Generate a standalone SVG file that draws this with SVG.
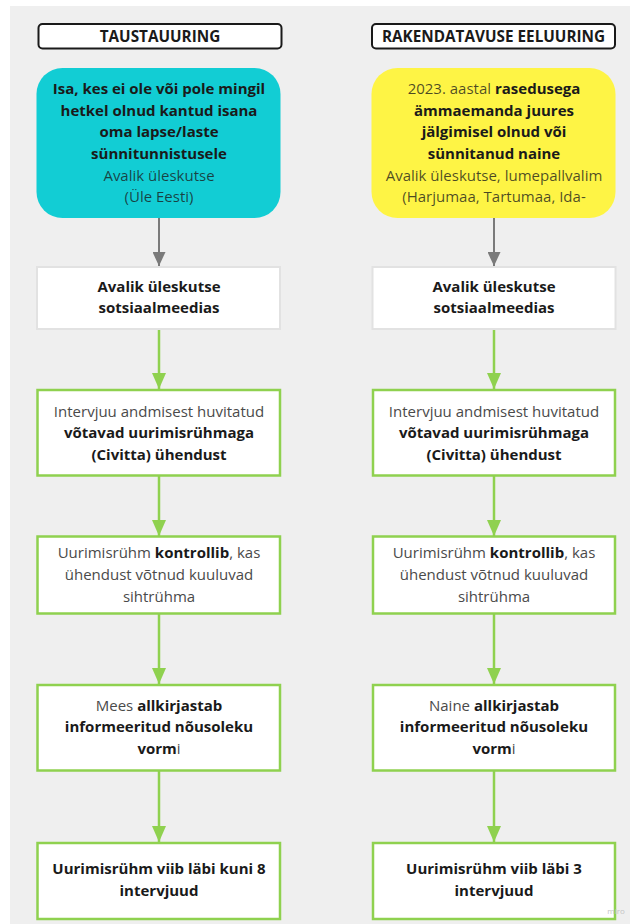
<svg xmlns="http://www.w3.org/2000/svg" width="630" height="924" viewBox="0 0 630 924">
<defs>
<style>
text{font-family:"Open Sans","Noto Sans","Liberation Sans",sans-serif;font-size:15px;text-anchor:middle;fill:#1a1a1a}
.b{font-weight:700}
.h{font-size:15.3px}
.r{font-weight:400;fill:#4a4a4a}
.rc{font-weight:400;fill:#1a1a1a;fill-opacity:0.78}
.hdr{fill:#ffffff;stroke:#1a1a1a;stroke-width:2}
.box{fill:#ffffff;stroke:#8fd14f;stroke-width:2.5}
.box0{fill:#ffffff;stroke:#e2e2e2;stroke-width:2}
.g{stroke:#8fd14f;stroke-width:2.5;fill:none}
.k{stroke:#7a7a7a;stroke-width:2;fill:none}
</style>
<marker id="ag" viewBox="0 0 16 14" refX="16" refY="7" markerWidth="16" markerHeight="14" markerUnits="userSpaceOnUse" orient="auto">
<path d="M0,0 L16,7 L0,14 Z" fill="#8fd14f"/>
</marker>
<marker id="ak" viewBox="0 0 14 13" refX="14" refY="6.5" markerWidth="14" markerHeight="13" markerUnits="userSpaceOnUse" orient="auto">
<path d="M0,0 L14,6.5 L0,13 Z" fill="#7a7a7a"/>
</marker>
</defs>
<rect x="0" y="0" width="630" height="924" fill="#ffffff"/>
<rect x="10" y="6" width="620" height="918" fill="#efefef"/>

<g id="connectors">
<line class="k" x1="159" y1="218" x2="159" y2="266" marker-end="url(#ak)"/>
<line class="g" x1="159" y1="329" x2="159" y2="389" marker-end="url(#ag)"/>
<line class="g" x1="159" y1="476" x2="159" y2="536" marker-end="url(#ag)"/>
<line class="g" x1="159" y1="614" x2="159" y2="684" marker-end="url(#ag)"/>
<line class="g" x1="159" y1="771" x2="159" y2="842" marker-end="url(#ag)"/>
<line class="k" x1="494" y1="218" x2="494" y2="266" marker-end="url(#ak)"/>
<line class="g" x1="494" y1="329" x2="494" y2="389" marker-end="url(#ag)"/>
<line class="g" x1="494" y1="476" x2="494" y2="536" marker-end="url(#ag)"/>
<line class="g" x1="494" y1="614" x2="494" y2="684" marker-end="url(#ag)"/>
<line class="g" x1="494" y1="771" x2="494" y2="842" marker-end="url(#ag)"/>
</g>

<g id="hdr-left">
<rect class="hdr" x="38.5" y="24" width="243" height="24.5" rx="4"/>
<text class="b h" x="160" y="41.5">TAUSTAUURING</text>
</g>
<g id="hdr-right">
<rect class="hdr" x="372" y="24" width="243" height="24.5" rx="4"/>
<text class="b h" x="493.5" y="41.5">RAKENDATAVUSE EELUURING</text>
</g>

<g id="left-1">
<rect x="36.5" y="68" width="244" height="150" rx="26" fill="#12cdd4"/>
<text class="b" x="159" y="94">Isa, kes ei ole või pole mingil</text>
<text class="b" x="159" y="115.7">hetkel olnud kantud isana</text>
<text class="b" x="159" y="137.4">oma lapse/laste</text>
<text class="b" x="159" y="159">sünnitunnistusele</text>
<text class="rc" x="159" y="180.6">Avalik üleskutse</text>
<text class="rc" x="159" y="202.2">(Üle Eesti)</text>
</g>
<g id="right-1">
<rect x="371.5" y="68" width="244" height="150" rx="26" fill="#fef445"/>
<text x="494" y="94"><tspan class="rc">2023. aastal </tspan><tspan class="b">rasedusega</tspan></text>
<text class="b" x="494" y="115.7">ämmaemanda juures</text>
<text class="b" x="494" y="137.4">jälgimisel olnud või</text>
<text class="b" x="494" y="159">sünnitanud naine</text>
<text class="rc" x="494" y="180.6">Avalik üleskutse, lumepallvalim</text>
<text class="rc" x="494" y="202.2">(Harjumaa, Tartumaa, Ida-</text>
</g>

<g id="left-2">
<rect class="box0" x="37" y="267" width="243" height="62"/>
<text class="b" x="159" y="291.5">Avalik üleskutse</text>
<text class="b" x="159" y="313">sotsiaalmeedias</text>
</g>
<g id="right-2">
<rect class="box0" x="372.5" y="267" width="243" height="62"/>
<text class="b" x="494" y="291.5">Avalik üleskutse</text>
<text class="b" x="494" y="313">sotsiaalmeedias</text>
</g>

<g id="left-3">
<rect class="box" x="37.5" y="390" width="242.5" height="85.5"/>
<text class="r" x="159" y="416.5">Intervjuu andmisest huvitatud</text>
<text class="b" x="159" y="438">võtavad uurimisrühmaga</text>
<text class="b" x="159" y="459.5">(Civitta) ühendust</text>
</g>
<g id="right-3">
<rect class="box" x="373" y="390" width="242" height="85.5"/>
<text class="r" x="494" y="416.5">Intervjuu andmisest huvitatud</text>
<text class="b" x="494" y="438">võtavad uurimisrühmaga</text>
<text class="b" x="494" y="459.5">(Civitta) ühendust</text>
</g>

<g id="left-4">
<rect class="box" x="37.5" y="536.5" width="242.5" height="77"/>
<text x="159" y="558"><tspan class="r">Uurimisrühm </tspan><tspan class="b">kontrollib</tspan><tspan class="r">, kas</tspan></text>
<text class="r" x="159" y="580">ühendust võtnud kuuluvad</text>
<text class="r" x="159" y="601.5">sihtrühma</text>
</g>
<g id="right-4">
<rect class="box" x="373" y="536.5" width="242" height="77"/>
<text x="494" y="558"><tspan class="r">Uurimisrühm </tspan><tspan class="b">kontrollib</tspan><tspan class="r">, kas</tspan></text>
<text class="r" x="494" y="580">ühendust võtnud kuuluvad</text>
<text class="r" x="494" y="601.5">sihtrühma</text>
</g>

<g id="left-5">
<rect class="box" x="37.5" y="685" width="242.5" height="85.5"/>
<text x="159" y="710.5"><tspan class="r">Mees </tspan><tspan class="b">allkirjastab</tspan></text>
<text class="b" x="159" y="732">informeeritud nõusoleku</text>
<text x="159" y="754"><tspan class="b">vorm</tspan><tspan class="r">i</tspan></text>
</g>
<g id="right-5">
<rect class="box" x="373" y="685" width="242" height="85.5"/>
<text x="494" y="710.5"><tspan class="r">Naine </tspan><tspan class="b">allkirjastab</tspan></text>
<text class="b" x="494" y="732">informeeritud nõusoleku</text>
<text x="494" y="754"><tspan class="b">vorm</tspan><tspan class="r">i</tspan></text>
</g>

<g id="left-6">
<rect class="box" x="37.5" y="843" width="242.5" height="76"/>
<text class="b" x="159" y="874">Uurimisrühm viib läbi kuni 8</text>
<text class="b" x="159" y="896">intervjuud</text>
</g>
<g id="right-6">
<rect class="box" x="373" y="843" width="242" height="76"/>
<text class="b" x="494" y="874">Uurimisrühm viib läbi 3</text>
<text class="b" x="494" y="896">intervjuud</text>
</g>

<text x="616" y="914" style="font-size:8px;fill:#c4c4c4;font-weight:400">miro</text>
</svg>
